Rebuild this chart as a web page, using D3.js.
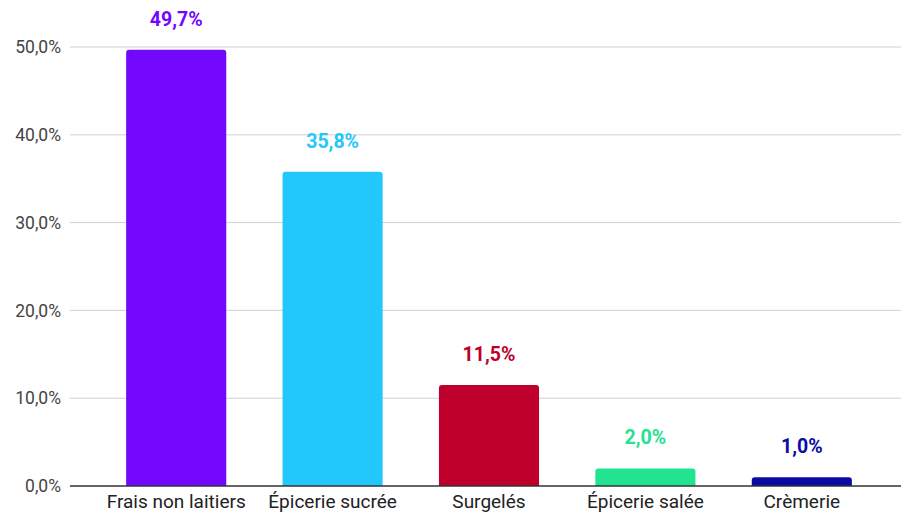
<!DOCTYPE html>
<html><head><meta charset="utf-8">
<script src="https://cdn.jsdelivr.net/npm/d3@7"></script>
<style>body{margin:0;background:#fff;font-family:Roboto,Arial,sans-serif}</style>
</head><body><svg id="c" width="901" height="514"></svg>
<script>
const categories = ["Frais non laitiers","Épicerie sucrée","Surgelés","Épicerie salée","Crèmerie"];
const values = [49.7, 35.8, 11.5, 2.0, 1.0];
const colors = ["#7306fd","#22c7fb","#c0002c","#22e38f","#0b0ba3"];
const yTicks = [0,10,20,30,40,50];

const svg = d3.select("#c");
const y = d3.scaleLinear().domain([0,50]).range([486,47]);
const x = d3.scaleBand().domain(categories).range([98,880]).paddingInner(0.36).paddingOuter(0.18);
const fmt = v => d3.format(".1f")(v).replace(".", ",") + "%";

// gridlines
svg.append("g").selectAll("line").data(yTicks.filter(t=>t>0)).join("line")
  .attr("x1",70).attr("x2",901).attr("y1",d=>y(d)).attr("y2",d=>y(d))
  .attr("stroke","#d0d0d0").attr("stroke-width",1);

// y tick labels
svg.append("g").selectAll("text").data(yTicks).join("text")
  .attr("x",61).attr("y",d=>y(d)).attr("dy","0.35em").attr("text-anchor","end")
  .attr("font-size",17.5).attr("fill","#444").text(d=>fmt(d));

// bars with rounded top
const r = 3;
svg.append("g").selectAll("path").data(values).join("path")
  .attr("fill",(d,i)=>colors[i])
  .attr("d",(d,i)=>{
    const x0 = x(categories[i]), w = x.bandwidth(), y0 = y(d), yb = y(0);
    return `M${x0},${yb}V${y0+r}Q${x0},${y0} ${x0+r},${y0}H${x0+w-r}Q${x0+w},${y0} ${x0+w},${y0+r}V${yb}Z`;
  });

// baseline
svg.append("line").attr("x1",70).attr("x2",901).attr("y1",y(0)).attr("y2",y(0))
  .attr("stroke","#333").attr("stroke-width",1.5);

// value labels
svg.append("g").selectAll("text").data(values).join("text")
  .attr("x",(d,i)=>x(categories[i])+x.bandwidth()/2).attr("y",d=>y(d)-24)
  .attr("text-anchor","middle").attr("font-size",19.5).attr("font-weight","bold")
  .attr("fill",(d,i)=>colors[i]).text(d=>fmt(d));

// category labels
svg.append("g").selectAll("text").data(categories).join("text")
  .attr("x",d=>x(d)+x.bandwidth()/2).attr("y",508)
  .attr("text-anchor","middle").attr("font-size",19).attr("fill","#222").text(d=>d);
</script></body></html>
